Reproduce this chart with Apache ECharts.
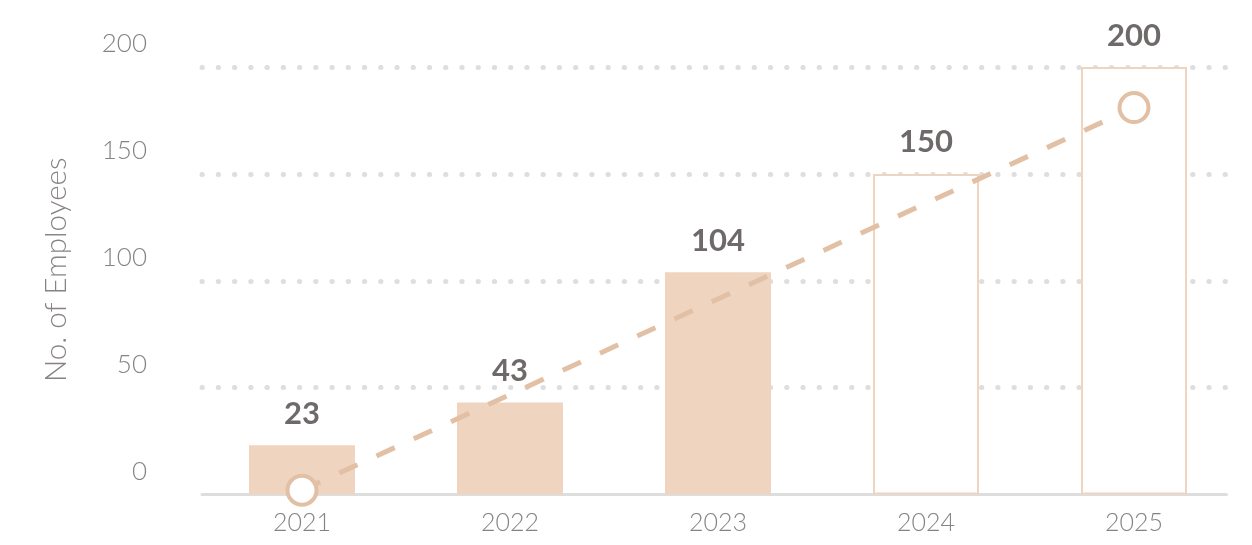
<!DOCTYPE html>
<html>
<head>
<meta charset="utf-8">
<script src="https://cdn.jsdelivr.net/npm/echarts@6/dist/echarts.min.js"></script>
<style>
  html, body { margin: 0; padding: 0; background: #ffffff; }
  #chart { width: 1252px; height: 545px; }
</style>
</head>
<body>
<div id="chart"></div>
<script>
// Headcount by year: actual figures and planned figures
const years = ['2021', '2022', '2023', '2024', '2025'];
const actualEmployees = [23, 43, 104, null, null];
const plannedEmployees = [null, null, null, 150, 200];
// Growth trend, drawn between its two end points
const trendEnds = [2, null, null, null, 181];
const yTicks = { min: 0, max: 200, interval: 50 };

const FONT_LIGHT = 'Lato, "Open Sans", sans-serif';
const FONT_BOLD = 'Lato, "Open Sans", sans-serif';
const PEACH = '#efd4bf';
const TREND = '#e2c0a5';
const TEXT = '#888383';
const VALUE_TEXT = '#6f6a6a';

const valueLabel = {
  show: true,
  position: 'top',
  distance: 16,
  color: VALUE_TEXT,
  fontFamily: FONT_BOLD,
  fontWeight: 'bold',
  fontSize: 31
};

const chart = echarts.init(document.getElementById('chart'), null, { renderer: 'canvas' });
chart.setOption({
  animation: false,
  backgroundColor: '#ffffff',
  grid: [
    // plotting area for bars and trend
    { left: 198, right: 14, top: 67, bottom: 50.5 },
    // frame for the value axis, grid dots and base line
    { left: 202, right: 25.5, top: 67, bottom: 50.5 }
  ],
  xAxis: [
    {
      type: 'category', gridIndex: 0, data: years,
      axisLine: { show: false }, axisTick: { show: false },
      axisLabel: { color: TEXT, fontFamily: FONT_LIGHT, fontWeight: 300, fontSize: 25, margin: 16 }
    },
    {
      type: 'category', gridIndex: 1, data: years,
      axisLine: { show: true, lineStyle: { color: '#dedede', width: 3 } },
      axisTick: { show: false }, axisLabel: { show: false }
    }
  ],
  yAxis: [
    { type: 'value', gridIndex: 0, show: false, min: yTicks.min, max: yTicks.max, interval: yTicks.interval },
    {
      type: 'value', gridIndex: 1, min: yTicks.min, max: yTicks.max, interval: yTicks.interval,
      name: 'No. of Employees',
      nameLocation: 'middle',
      nameGap: 131,
      nameTextStyle: { color: TEXT, fontFamily: FONT_LIGHT, fontWeight: 300, fontSize: 29.5, padding: [0, 0, 0, 22] },
      axisLine: { show: false }, axisTick: { show: false },
      axisLabel: {
        color: TEXT, fontFamily: FONT_LIGHT, fontWeight: 300, fontSize: 26, margin: 55,
        verticalAlign: 'bottom', lineHeight: 46
      },
      splitLine: {
        show: true,
        showMinLine: false,
        lineStyle: { color: '#dedede', width: 5, type: [0.3, 15.94], cap: 'round' }
      }
    }
  ],
  series: [
    {
      name: 'Actual', type: 'bar', xAxisIndex: 0, yAxisIndex: 0,
      data: actualEmployees, barWidth: 106, barGap: '-100%',
      itemStyle: { color: PEACH },
      label: valueLabel,
      z: 2
    },
    {
      name: 'Planned', type: 'bar', xAxisIndex: 0, yAxisIndex: 0,
      data: plannedEmployees, barWidth: 106, barGap: '-100%',
      itemStyle: { color: '#ffffff', borderColor: PEACH, borderWidth: 2 },
      label: valueLabel,
      z: 2
    },
    {
      name: 'Trend', type: 'line', xAxisIndex: 0, yAxisIndex: 0,
      data: trendEnds, connectNulls: true,
      symbol: 'circle', symbolSize: 29, showAllSymbol: true,
      lineStyle: { color: TREND, width: 5, type: [20, 21] },
      itemStyle: { color: '#ffffff', borderColor: TREND, borderWidth: 4 },
      z: 5
    }
  ]
});
</script>
</body>
</html>
